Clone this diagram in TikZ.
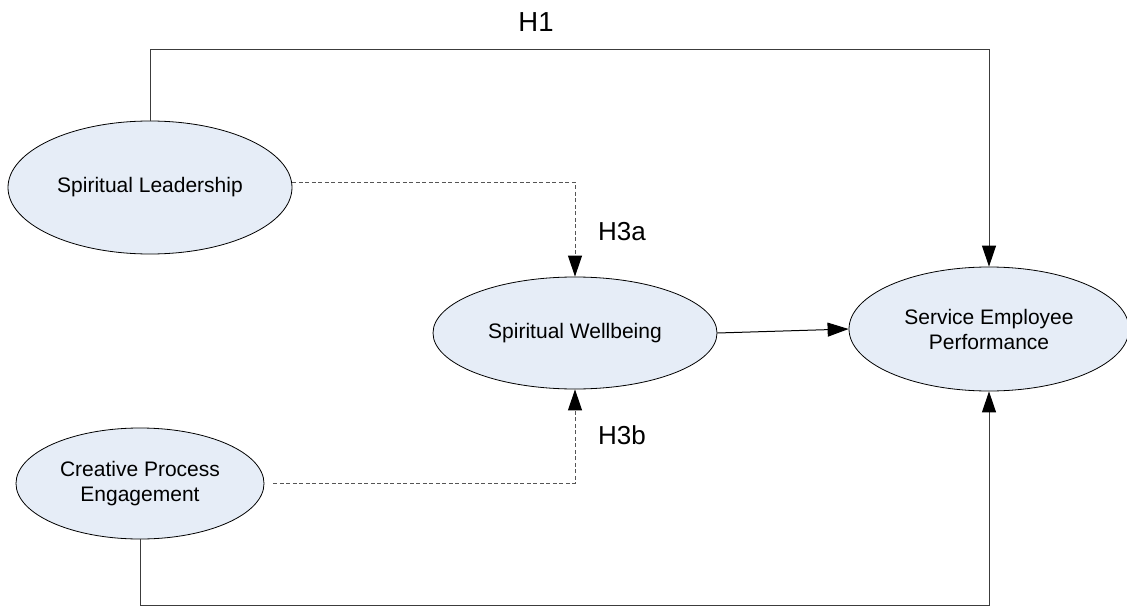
\documentclass[tikz,border=0pt]{standalone}
\usepackage{fontspec}
\setmainfont{Liberation Sans}
\usetikzlibrary{shapes.geometric,arrows.meta,calc}
\definecolor{ellfill}{RGB}{230,237,247}
\definecolor{linegray}{RGB}{60,60,60}
\definecolor{dashgray}{RGB}{85,85,85}
\tikzset{
  construct/.style={ellipse, draw=black, line width=0.8pt, fill=ellfill, inner sep=0pt,
    align=center, font=\fontsize{21}{25}\selectfont},
  hyplabel/.style={font=\fontsize{26}{30}\selectfont, inner sep=0pt},
  tip/.style={-{Triangle[length=21pt,width=14pt,color=black,fill=black]}},
  solidlink/.style={draw=linegray, line width=1pt, tip},
  dashlink/.style={draw=dashgray, line width=1pt, dash pattern=on 4pt off 2.5pt, tip},
}
\begin{document}
\begin{tikzpicture}[x=1pt,y=-1pt]
\useasboundingbox (0,0) rectangle (1127,607);
\node[construct, minimum width=284pt, minimum height=133pt] (SL) at (150,187.5) {Spiritual Leadership};
\node[construct, minimum width=248pt, minimum height=111pt] (CPE) at (140,483.5) {Creative Process\\Engagement};
\node[construct, minimum width=284pt, minimum height=112pt] (SW) at (575,333) {Spiritual Wellbeing};
\node[construct, minimum width=280pt, minimum height=124pt] (SEP) at (989,329) {Service Employee\\Performance};

\node[hyplabel, font=\fontsize{27.5}{32}\selectfont] (H1) at (536,22) {H1};
\node[hyplabel] (H3a) at (622,232) {H3a};
\node[hyplabel] (H3b) at (622,435) {H3b};

\coordinate (h1l) at (150,50);
\coordinate (h1r) at (989,50);
\coordinate (btl) at (140,605.5);
\coordinate (btr) at (989,605.5);

\draw[solidlink] (SL.north) -- (h1l) -- (h1r) -- (SEP.north);
\draw[dashlink] ([yshift=5.5pt]SL.east) -| (SW.north);
\draw[dashlink, shorten <=9pt] (CPE.east) -| (SW.south);
\draw[solidlink, draw=black] (SW.east) -- (SEP.west);
\draw[solidlink] (CPE.south) -- (btl) -- (btr) -- (SEP.south);
\end{tikzpicture}
\end{document}
